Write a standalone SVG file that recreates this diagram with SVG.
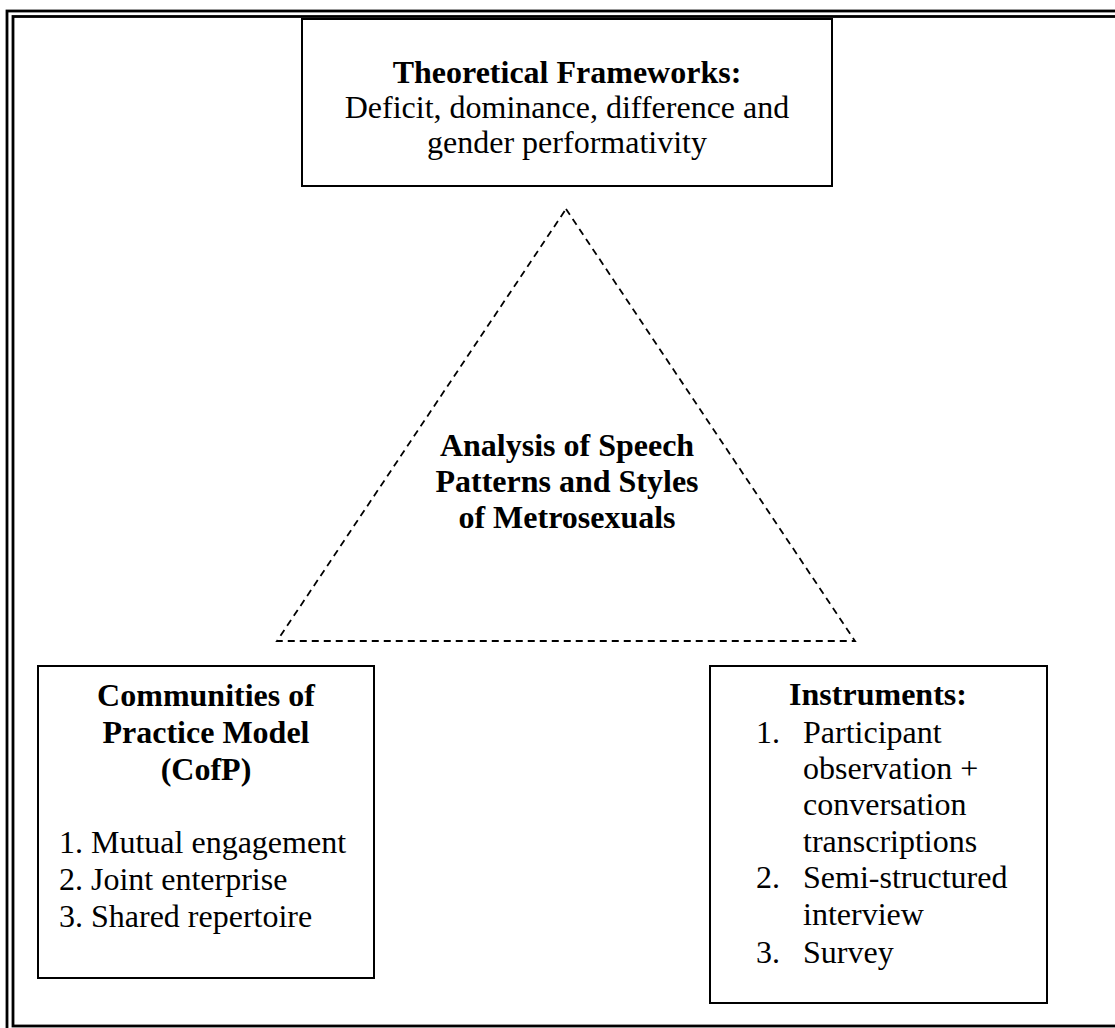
<svg xmlns="http://www.w3.org/2000/svg" width="1115" height="1028" viewBox="0 0 1115 1028">
<style>
  .frame { fill: none; stroke: #000; stroke-width: 2.8; }
  .box { fill: #fff; stroke: #000; stroke-width: 2; }
  .tri { fill: none; stroke: #000; stroke-width: 1.8; stroke-dasharray: 7 5; }
  text { font-family: "Liberation Serif", "Times New Roman", serif; font-size: 32px; fill: #000; }
  .b { font-weight: bold; }
  .c { text-anchor: middle; }
</style>
<rect width="1115" height="1028" fill="#fff"/>
<g id="frame">
  <rect class="frame" x="7" y="11" width="1130" height="1040"/>
  <rect class="frame" x="13" y="16.5" width="1120" height="1009.5"/>
</g>
<g id="analysis">
  <polygon class="tri" points="566,209 855,641 277,641"/>
  <text class="b c" x="567" y="456">Analysis of Speech</text>
  <text class="b c" x="567" y="492">Patterns and Styles</text>
  <text class="b c" x="567" y="528">of Metrosexuals</text>
</g>
<g id="theoretical">
  <rect class="box" x="302" y="19" width="530" height="167"/>
  <text class="b c" x="567" y="83">Theoretical Frameworks:</text>
  <text class="c" x="567" y="118">Deficit, dominance, difference and</text>
  <text class="c" x="567" y="153">gender performativity</text>
</g>
<g id="cofp">
  <rect class="box" x="38" y="666" width="336" height="312"/>
  <text class="b c" x="206" y="706">Communities of</text>
  <text class="b c" x="206" y="743">Practice Model</text>
  <text class="b c" x="206" y="780">(CofP)</text>
  <text x="59" y="853">1. Mutual engagement</text>
  <text x="59" y="890">2. Joint enterprise</text>
  <text x="59" y="927">3. Shared repertoire</text>
</g>
<g id="instruments">
  <rect class="box" x="710" y="666" width="337" height="337"/>
  <text class="b c" x="878" y="705">Instruments:</text>
  <text x="756" y="743">1.</text>
  <text x="803" y="743">Participant</text>
  <text x="803" y="779">observation +</text>
  <text x="803" y="815">conversation</text>
  <text x="803" y="852">transcriptions</text>
  <text x="756" y="888">2.</text>
  <text x="803" y="888">Semi-structured</text>
  <text x="803" y="925">interview</text>
  <text x="756" y="963">3.</text>
  <text x="803" y="963">Survey</text>
</g>
</svg>
